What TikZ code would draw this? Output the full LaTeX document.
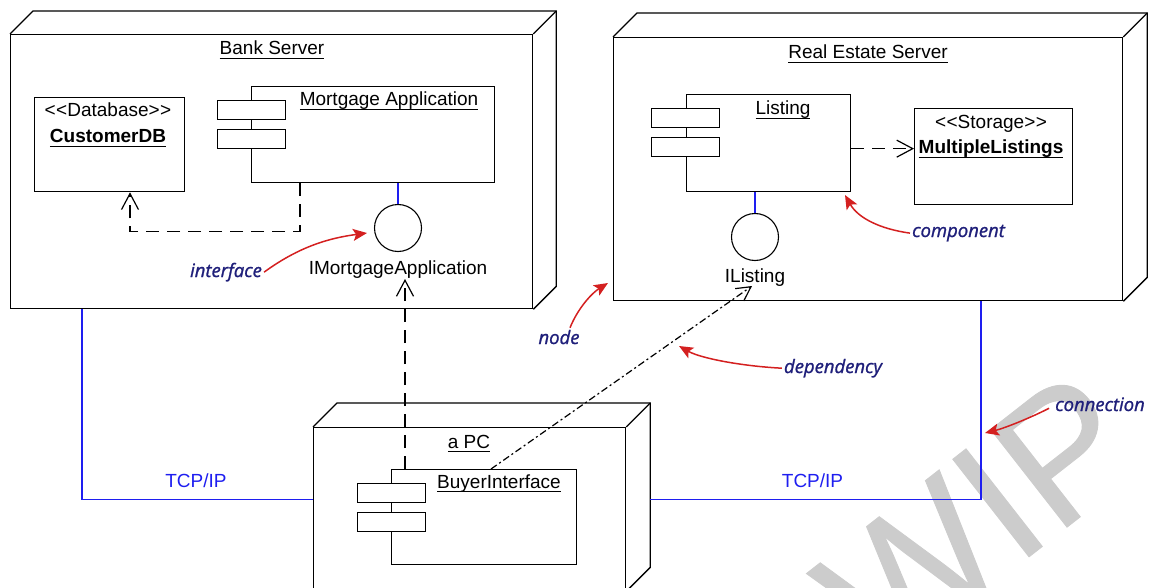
\documentclass[tikz,border=0pt]{standalone}
\usepackage{fontspec}
\setmainfont{Liberation Sans}
\newfontfamily\notefont[FakeBold=1.2]{Open Sans}
\newfontfamily\wmfont[FakeBold=0.5]{Liberation Sans}
\usetikzlibrary{arrows.meta,calc}

\definecolor{linkblue}{HTML}{1E1EF0}
\definecolor{notered}{HTML}{D42020}
\definecolor{notenavy}{HTML}{1F1F7A}
\definecolor{wmgray}{HTML}{CCCCCC}

% underlined name, rule a little below the baseline
\newcommand\ulined[1]{\setbox0=\hbox{#1}\rlap{\rule[-4pt]{\wd0}{1.2pt}}\box0}

% side and top faces of a 3D deployment node
\newcommand\drawdepth[2]{%
  \draw[edge] (#1.north west) -- ++(#2,-#2) -| ($(#1.south east)+(#2,-#2)$) -- (#1.south east);
  \draw[edge] (#1.north east) -- ++(#2,-#2);}

\begin{document}
\begin{tikzpicture}[x=1pt,y=-1pt,
  every node/.style={font=\fontsize{19}{22}\selectfont, inner sep=0pt},
  edge/.style={line width=1.3pt, line join=miter},
  frame/.style={draw, line width=1.3pt, anchor=north west, inner sep=0pt},
  part/.style={draw, fill=white, line width=1.2pt, anchor=north west,
               minimum width=68, minimum height=19, inner sep=0pt},
  iface/.style={draw, circle, line width=1.1pt, minimum size=47, inner sep=0pt},
  title/.style={anchor=base},
  conn/.style={draw=linkblue, line width=1.4pt},
  conntext/.style={anchor=base, text=linkblue},
  dep/.style={line width=1.3pt, dash pattern=on 13pt off 8pt,
              -{Straight Barb[length=16pt,width=17pt,line width=1.2pt]}},
  depdot/.style={line width=1.2pt, dash pattern=on 7pt off 3pt on 2pt off 3pt,
              -{Straight Barb[length=14pt,width=15pt,line width=1.2pt]}},
  note/.style={anchor=base, text=notenavy, inner sep=2pt,
               font=\notefont\itshape\fontsize{18.5}{22}\selectfont},
  notearrow/.style={draw=notered, line width=1.5pt,
               -{Stealth[length=14pt,width=12pt,inset=3pt]}},
  watermark/.style={anchor=base, rotate=38, text=wmgray,
               font=\wmfont\fontsize{180}{180}\selectfont}
]
\path[use as bounding box] (0,0) rectangle (1155,588);
\clip (0,0) rectangle (1155,588);

% watermark behind the drawing
\node[watermark] (wm) at (1016,567) {WIP};

% ---------------- Bank Server ----------------
\node[frame, minimum width=522, minimum height=274] (bank) at (10,34) {};
\drawdepth{bank}{23}
\node[title] (bank-title) at (272,55) {\ulined{Bank Server}};

\node[frame, minimum width=150, minimum height=94] (custdb) at (34,97) {};
\node[title] (custdb-st) at (108,117) {<\kern0.5pt<Database>\kern0.5pt>};
\node[title] (custdb-name) at (108,143) {\ulined{\bfseries CustomerDB}};

\node[frame, fill=white, minimum width=243, minimum height=96] (mortgage) at (251,86) {};
\node[part] (mortgage-p1) at ($(mortgage.north west)+(-34,14)$) {};
\node[part] (mortgage-p2) at ($(mortgage.north west)+(-34,43)$) {};
\node[title] (mortgage-title) at (389,106) {\ulined{Mortgage Application}};

\node[iface] (imort) at (398,228) {};
\node[title] (imort-label) at (398,274) {IMortgageApplication};
\draw[conn] (imort.north) -- (imort.north |- mortgage.south);

\draw[dep] ($(mortgage.south west)+(49,0)$) -- ++(0,48) -| ($(custdb.south west)+(96,0)$);

% ---------------- Real Estate Server ----------------
\node[frame, minimum width=509, minimum height=263] (reserver) at (613,37) {};
\drawdepth{reserver}{24}
\node[title] (reserver-title) at (868,59) {\ulined{Real Estate Server}};

\node[frame, fill=white, minimum width=164, minimum height=97] (listing) at (686,94) {};
\node[part] (listing-p1) at ($(listing.north west)+(-35,14)$) {};
\node[part] (listing-p2) at ($(listing.north west)+(-35,43)$) {};
\node[title] (listing-title) at (783,115) {\ulined{Listing}};

\node[frame, minimum width=158, minimum height=96] (mlist) at (914,108) {};
\node[title] (mlist-st) at (991,129) {<\kern0.5pt<Storage>\kern0.5pt>};
\node[title] (mlist-name) at (991,154) {\ulined{\bfseries MultipleListings}};

\draw[dep] ($(listing.east)+(0,5.5)$) -- (mlist.west |- {$(listing.east)+(0,5.5)$});

\node[iface] (ilist) at (755,237) {};
\node[title] (ilist-label) at (755,282) {IListing};
\draw[conn] (ilist.north) -- (ilist.north |- listing.south);

% ---------------- a PC ----------------
\node[frame, minimum width=312, minimum height=163] (pc) at (313,427) {};
\drawdepth{pc}{24}
\node[title] (pc-title) at (469,448) {\ulined{a PC}};

\node[frame, fill=white, minimum width=185, minimum height=95] (buyer) at (391,469) {};
\node[part] (buyer-p1) at ($(buyer.north west)+(-34,14)$) {};
\node[part] (buyer-p2) at ($(buyer.north west)+(-34,43)$) {};
\node[title] (buyer-title) at (499,488) {\ulined{BuyerInterface}};

% ---------------- dependencies from the PC ----------------
\draw[dep] ($(buyer.north west)+(14,0)$) -- ($(buyer.north west)+(14,-190)$);
\coordinate (ilist-tip) at (752,286);
\draw[depdot] ($(buyer.north west)+(100,0)$) -- (ilist-tip);

% ---------------- TCP/IP connections ----------------
\draw[conn] ($(bank.south west)+(72,0)$) |- ($(pc.west)+(0,-9.5)$);
\node[conntext] (tcp-left) at (196,487) {TCP/IP};
\draw[conn] ($(pc.east)+(24,-9.5)$) -| ($(reserver.south west)+(368,0)$);
\node[conntext] (tcp-right) at (812.5,487) {TCP/IP};

% ---------------- annotations ----------------
\node[note] (n-interface) at (226,277) {interface};
\coordinate (t-interface) at (367,233);
\draw[notearrow] (n-interface.east) .. controls (300,246) and (330,238) .. (t-interface);

\node[note] (n-component) at (958.5,237) {component};
\coordinate (t-component) at (845,195);
\draw[notearrow] (n-component.west) .. controls (880,229) and (858,218) .. (t-component);

\node[note] (n-node) at (559,344) {node};
\coordinate (t-node) at (608,283);
\draw[notearrow] ($(n-node.north)+(11,0)$) .. controls (578,308) and (592,293) .. (t-node);

\node[note] (n-dependency) at (833,373) {dependency};
\coordinate (t-dependency) at (679,346);
\draw[notearrow] (n-dependency.west) .. controls (740,366) and (700,358) .. (t-dependency);

\node[note] (n-connection) at (1100,411) {connection};
\coordinate (t-connection) at (985,433);
\draw[notearrow] ($(n-connection.west)+(-4,4)$) .. controls (1030,418) and (1005,428) .. (t-connection);
\end{tikzpicture}
\end{document}
